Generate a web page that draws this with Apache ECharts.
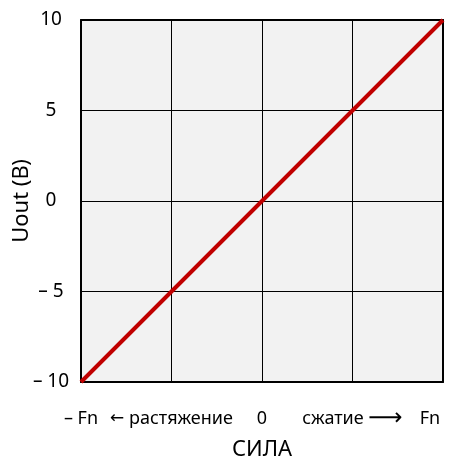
<!DOCTYPE html>
<html><head><meta charset="utf-8">
<script src="https://cdn.jsdelivr.net/npm/echarts@6/dist/echarts.min.js"></script>
<style>html,body{margin:0;padding:0;background:#fff}#c{width:459px;height:461px}</style>
</head><body><div id="c"></div>
<script>
const forceValues = [-2, -1, 0, 1, 2];
const uoutValues = [-10, -5, 0, 5, 10];
const xTickLabels = {'-2': '{t|– Fn}', '-1': '{a|←}{t| растяжение}', '0': '{t|0}', '1': '{t|сжатие }{b|⟶}', '2': '{r|Fn}'};
const yTickLabels = {'-10': '– 10', '-5': '– 5', '0': '0', '5': '5', '10': '10'};
const xTitle = 'СИЛА';
const yTitle = 'Uout (В)';

const FONT = 'Noto Sans';
const chart = echarts.init(document.getElementById('c'), null, {renderer: 'canvas'});
const border = {show: true, onZero: false, lineStyle: {color: '#000', width: 2}};
chart.setOption({
  animation: false,
  backgroundColor: '#fff',
  grid: {left: 81, right: 16, top: 20, bottom: 79, show: true, backgroundColor: '#f2f2f2', borderWidth: 0,
    containLabel: false, outerBoundsMode: 'none'},
  xAxis: [{
    type: 'value', min: -2, max: 2, interval: 1,
    name: xTitle, nameLocation: 'middle', nameGap: 57, nameMoveOverlap: false,
    nameTextStyle: {fontFamily: FONT, fontSize: 22, color: '#000'},
    axisLine: border,
    axisTick: {show: false},
    splitLine: {show: true, lineStyle: {color: '#000', width: 1}},
    axisLabel: {
      margin: 27, fontFamily: FONT, fontSize: 18, lineHeight: 20, color: '#000',
      formatter: v => xTickLabels[String(v)],
      rich: {
        t: {fontFamily: FONT, fontSize: 18, lineHeight: 20, color: '#000', verticalAlign: 'middle'},
        r: {fontFamily: FONT, fontSize: 18, lineHeight: 20, color: '#000', padding: [0, 26, 0, 0], verticalAlign: 'middle'},
        a: {fontFamily: 'DejaVu Sans', fontSize: 17, lineHeight: 20, color: '#000', verticalAlign: 'middle'},
        b: {fontFamily: 'DejaVu Sans', fontSize: 24, lineHeight: 20, color: '#000', verticalAlign: 'middle'}
      }
    }
  }, {type: 'value', position: 'top', min: -2, max: 2, interval: 1,
    axisLine: border, axisTick: {show: false}, axisLabel: {show: false}, splitLine: {show: false}}],
  yAxis: [{
    type: 'value', min: -10, max: 10, interval: 5,
    name: yTitle, nameLocation: 'middle', nameGap: 48, nameMoveOverlap: false,
    nameTextStyle: {fontFamily: FONT, fontSize: 22, color: '#000'},
    axisLine: border,
    axisTick: {show: false},
    splitLine: {show: true, lineStyle: {color: '#000', width: 1}},
    axisLabel: {margin: 30, align: 'center', fontFamily: FONT, fontSize: 19, color: '#000',
      formatter: v => yTickLabels[String(v)]}
  }, {type: 'value', position: 'right', min: -10, max: 10, interval: 5,
    axisLine: border, axisTick: {show: false}, axisLabel: {show: false}, splitLine: {show: false}}],
  series: [{
    type: 'line', data: forceValues.map((x, i) => [x, uoutValues[i]]),
    showSymbol: false, lineStyle: {color: '#c00000', width: 4}, z: 5
  }]
});
</script></body></html>
